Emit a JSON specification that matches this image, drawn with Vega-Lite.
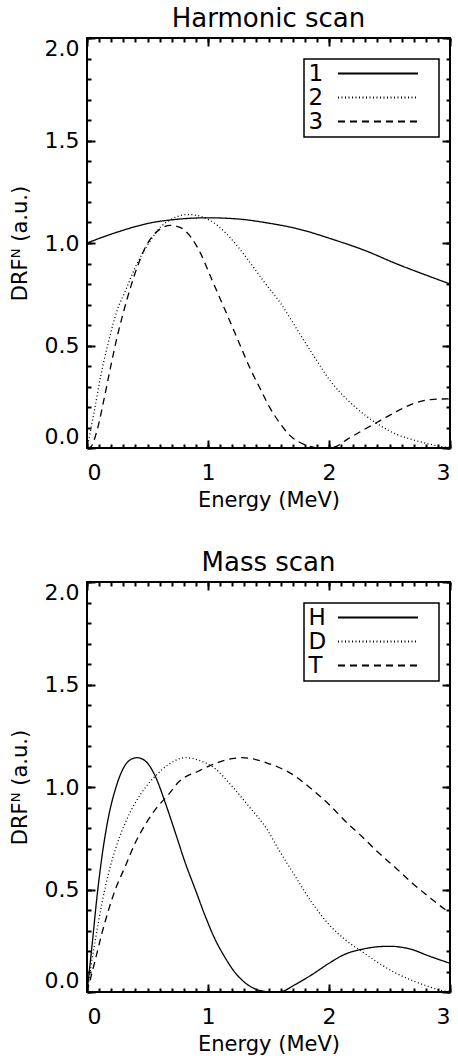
{
  "$schema": "https://vega.github.io/schema/vega-lite/v6.json",
  "padding": {"left": 8, "top": 5, "right": 0, "bottom": 0},
  "spacing": 38,
  "resolve": {"scale": {"strokeDash": "independent"}, "legend": {"strokeDash": "independent"}},
  "config": {
    "font": "DejaVu Sans",
    "view": {"stroke": "black", "strokeWidth": 2},
    "axis": {"grid": false, "domain": false, "labelFont": "DejaVu Sans", "labelFontSize": 22, "labelColor": "black", "titleFont": "DejaVu Sans", "titleFontSize": 21, "titleFontWeight": "normal", "titleColor": "black", "tickColor": "black", "tickWidth": 2},
    "title": {"font": "DejaVu Sans", "fontSize": 26, "fontWeight": "normal", "color": "black", "anchor": "middle", "baseline": "alphabetic", "offset": 5},
    "legend": {"strokeWidth": 1.5}
  },
  "datasets": {
    "harm": [
      {"E": 0, "D": 1.0, "s": "1"}, {"E": 0.25, "D": 1.053, "s": "1"}, {"E": 0.5, "D": 1.095, "s": "1"}, {"E": 0.75, "D": 1.116, "s": "1"}, {"E": 1.0, "D": 1.123, "s": "1"}, {"E": 1.25, "D": 1.117, "s": "1"}, {"E": 1.5, "D": 1.097, "s": "1"}, {"E": 1.75, "D": 1.068, "s": "1"}, {"E": 2.014, "D": 1.021, "s": "1"}, {"E": 2.29, "D": 0.965, "s": "1"}, {"E": 2.564, "D": 0.897, "s": "1"}, {"E": 2.84, "D": 0.835, "s": "1"}, {"E": 3.0, "D": 0.8, "s": "1"},
      {"E": 0, "D": 0, "s": "2"}, {"E": 0.058, "D": 0.172, "s": "2"}, {"E": 0.113, "D": 0.35, "s": "2"}, {"E": 0.182, "D": 0.528, "s": "2"}, {"E": 0.25, "D": 0.673, "s": "2"}, {"E": 0.32, "D": 0.77, "s": "2"}, {"E": 0.388, "D": 0.867, "s": "2"}, {"E": 0.457, "D": 0.948, "s": "2"}, {"E": 0.526, "D": 1.013, "s": "2"}, {"E": 0.609, "D": 1.078, "s": "2"}, {"E": 0.69, "D": 1.113, "s": "2"}, {"E": 0.829, "D": 1.139, "s": "2"}, {"E": 0.94, "D": 1.13, "s": "2"}, {"E": 1.077, "D": 1.086, "s": "2"}, {"E": 1.215, "D": 1.005, "s": "2"}, {"E": 1.353, "D": 0.9, "s": "2"}, {"E": 1.463, "D": 0.811, "s": "2"}, {"E": 1.6, "D": 0.706, "s": "2"}, {"E": 1.738, "D": 0.576, "s": "2"}, {"E": 1.876, "D": 0.447, "s": "2"}, {"E": 2.014, "D": 0.325, "s": "2"}, {"E": 2.15, "D": 0.236, "s": "2"}, {"E": 2.29, "D": 0.164, "s": "2"}, {"E": 2.43, "D": 0.107, "s": "2"}, {"E": 2.56, "D": 0.066, "s": "2"}, {"E": 2.7, "D": 0.039, "s": "2"}, {"E": 2.84, "D": 0.018, "s": "2"}, {"E": 2.95, "D": 0.005, "s": "2"}, {"E": 3.0, "D": 0.003, "s": "2"},
      {"E": 0, "D": 0, "s": "3"}, {"E": 0.03, "D": 0.005, "s": "3"}, {"E": 0.085, "D": 0.09, "s": "3"}, {"E": 0.14, "D": 0.236, "s": "3"}, {"E": 0.196, "D": 0.398, "s": "3"}, {"E": 0.25, "D": 0.544, "s": "3"}, {"E": 0.306, "D": 0.673, "s": "3"}, {"E": 0.361, "D": 0.786, "s": "3"}, {"E": 0.416, "D": 0.884, "s": "3"}, {"E": 0.471, "D": 0.965, "s": "3"}, {"E": 0.526, "D": 1.021, "s": "3"}, {"E": 0.61, "D": 1.07, "s": "3"}, {"E": 0.69, "D": 1.086, "s": "3"}, {"E": 0.774, "D": 1.075, "s": "3"}, {"E": 0.857, "D": 1.03, "s": "3"}, {"E": 0.94, "D": 0.948, "s": "3"}, {"E": 1.022, "D": 0.835, "s": "3"}, {"E": 1.105, "D": 0.722, "s": "3"}, {"E": 1.188, "D": 0.609, "s": "3"}, {"E": 1.27, "D": 0.495, "s": "3"}, {"E": 1.353, "D": 0.382, "s": "3"}, {"E": 1.435, "D": 0.285, "s": "3"}, {"E": 1.504, "D": 0.204, "s": "3"}, {"E": 1.573, "D": 0.139, "s": "3"}, {"E": 1.683, "D": 0.058, "s": "3"}, {"E": 1.793, "D": 0.018, "s": "3"}, {"E": 1.876, "D": 0.003, "s": "3"}, {"E": 1.95, "D": 0.0, "s": "3"}, {"E": 2.04, "D": 0.004, "s": "3"}, {"E": 2.15, "D": 0.042, "s": "3"}, {"E": 2.29, "D": 0.09, "s": "3"}, {"E": 2.43, "D": 0.136, "s": "3"}, {"E": 2.564, "D": 0.18, "s": "3"}, {"E": 2.7, "D": 0.217, "s": "3"}, {"E": 2.84, "D": 0.236, "s": "3"}, {"E": 3.0, "D": 0.24, "s": "3"}
    ],
    "mass": [
      {"E": 0, "D": 0, "s": "H"}, {"E": 0.041, "D": 0.223, "s": "H"}, {"E": 0.083, "D": 0.467, "s": "H"}, {"E": 0.124, "D": 0.662, "s": "H"}, {"E": 0.179, "D": 0.858, "s": "H"}, {"E": 0.234, "D": 0.988, "s": "H"}, {"E": 0.289, "D": 1.078, "s": "H"}, {"E": 0.344, "D": 1.127, "s": "H"}, {"E": 0.413, "D": 1.143, "s": "H"}, {"E": 0.482, "D": 1.127, "s": "H"}, {"E": 0.564, "D": 1.053, "s": "H"}, {"E": 0.647, "D": 0.923, "s": "H"}, {"E": 0.73, "D": 0.777, "s": "H"}, {"E": 0.812, "D": 0.63, "s": "H"}, {"E": 0.895, "D": 0.5, "s": "H"}, {"E": 0.978, "D": 0.369, "s": "H"}, {"E": 1.06, "D": 0.255, "s": "H"}, {"E": 1.143, "D": 0.166, "s": "H"}, {"E": 1.226, "D": 0.093, "s": "H"}, {"E": 1.309, "D": 0.044, "s": "H"}, {"E": 1.39, "D": 0.015, "s": "H"}, {"E": 1.47, "D": 0.003, "s": "H"}, {"E": 1.55, "D": 0.0, "s": "H"}, {"E": 1.61, "D": 0.003, "s": "H"}, {"E": 1.72, "D": 0.036, "s": "H"}, {"E": 1.86, "D": 0.085, "s": "H"}, {"E": 2.0, "D": 0.14, "s": "H"}, {"E": 2.135, "D": 0.185, "s": "H"}, {"E": 2.27, "D": 0.208, "s": "H"}, {"E": 2.41, "D": 0.221, "s": "H"}, {"E": 2.5, "D": 0.223, "s": "H"}, {"E": 2.686, "D": 0.207, "s": "H"}, {"E": 2.82, "D": 0.177, "s": "H"}, {"E": 2.975, "D": 0.145, "s": "H"}, {"E": 3.0, "D": 0.14, "s": "H"},
      {"E": 0, "D": 0, "s": "D"}, {"E": 0.069, "D": 0.255, "s": "D"}, {"E": 0.124, "D": 0.435, "s": "D"}, {"E": 0.179, "D": 0.581, "s": "D"}, {"E": 0.234, "D": 0.695, "s": "D"}, {"E": 0.317, "D": 0.826, "s": "D"}, {"E": 0.399, "D": 0.923, "s": "D"}, {"E": 0.482, "D": 0.997, "s": "D"}, {"E": 0.564, "D": 1.053, "s": "D"}, {"E": 0.675, "D": 1.11, "s": "D"}, {"E": 0.812, "D": 1.143, "s": "D"}, {"E": 0.923, "D": 1.131, "s": "D"}, {"E": 1.06, "D": 1.089, "s": "D"}, {"E": 1.198, "D": 1.004, "s": "D"}, {"E": 1.336, "D": 0.907, "s": "D"}, {"E": 1.488, "D": 0.793, "s": "D"}, {"E": 1.584, "D": 0.695, "s": "D"}, {"E": 1.72, "D": 0.565, "s": "D"}, {"E": 1.86, "D": 0.435, "s": "D"}, {"E": 2.0, "D": 0.329, "s": "D"}, {"E": 2.135, "D": 0.255, "s": "D"}, {"E": 2.27, "D": 0.198, "s": "D"}, {"E": 2.41, "D": 0.142, "s": "D"}, {"E": 2.55, "D": 0.093, "s": "D"}, {"E": 2.686, "D": 0.057, "s": "D"}, {"E": 2.82, "D": 0.027, "s": "D"}, {"E": 2.96, "D": 0.004, "s": "D"}, {"E": 3.0, "D": 0.002, "s": "D"},
      {"E": 0, "D": 0, "s": "T"}, {"E": 0.069, "D": 0.158, "s": "T"}, {"E": 0.124, "D": 0.288, "s": "T"}, {"E": 0.179, "D": 0.402, "s": "T"}, {"E": 0.234, "D": 0.5, "s": "T"}, {"E": 0.317, "D": 0.614, "s": "T"}, {"E": 0.399, "D": 0.728, "s": "T"}, {"E": 0.482, "D": 0.817, "s": "T"}, {"E": 0.564, "D": 0.89, "s": "T"}, {"E": 0.675, "D": 0.964, "s": "T"}, {"E": 0.757, "D": 1.024, "s": "T"}, {"E": 0.923, "D": 1.078, "s": "T"}, {"E": 1.06, "D": 1.115, "s": "T"}, {"E": 1.198, "D": 1.138, "s": "T"}, {"E": 1.28, "D": 1.143, "s": "T"}, {"E": 1.488, "D": 1.117, "s": "T"}, {"E": 1.72, "D": 1.053, "s": "T"}, {"E": 1.86, "D": 0.988, "s": "T"}, {"E": 2.0, "D": 0.915, "s": "T"}, {"E": 2.135, "D": 0.833, "s": "T"}, {"E": 2.27, "D": 0.76, "s": "T"}, {"E": 2.41, "D": 0.679, "s": "T"}, {"E": 2.55, "D": 0.606, "s": "T"}, {"E": 2.686, "D": 0.532, "s": "T"}, {"E": 2.82, "D": 0.467, "s": "T"}, {"E": 2.96, "D": 0.402, "s": "T"}, {"E": 3.0, "D": 0.385, "s": "T"}
    ]
  },
  "vconcat": [
    {
      "title": "Harmonic scan",
      "width": 363,
      "height": 410,
      "data": {"name": "harm"},
      "layer": [
        {
          "mark": {"type": "line", "color": "black", "strokeWidth": 1.3, "interpolate": "monotone", "clip": true},
          "encoding": {
            "x": {"field": "E", "type": "quantitative", "scale": {"domain": [0, 3], "nice": false, "zero": false}, "axis": {"orient": "bottom", "values": [0, 1, 2, 3], "format": "d", "ticks": false, "labelPadding": 14, "title": "Energy (MeV)", "titlePadding": 6}},
            "y": {"field": "D", "type": "quantitative", "scale": {"domain": [0, 2], "nice": false}, "axis": {"orient": "left", "values": [0, 0.5, 1, 1.5, 2], "format": ".1f", "ticks": false, "labelPadding": 8, "labelFlush": true, "title": "DRFᴺ (a.u.)", "titlePadding": 14}},
            "strokeDash": {"field": "s", "type": "nominal", "scale": {"domain": ["1", "2", "3"], "range": [[1, 0], [1, 2.5], [7, 5]]}, "legend": {"orient": "none", "legendX": 217, "legendY": 21, "title": null, "symbolType": "M3.9,0H19.9M22.7,0H22.7", "symbolSize": 100, "symbolStrokeWidth": 2, "symbolStrokeColor": "black", "symbolOffset": 0, "labelOffset": -21.5, "labelFontSize": 23, "labelFont": "DejaVu Sans", "labelColor": "black", "rowPadding": 0, "padding": 3, "strokeColor": "black", "fillColor": "white"}}
          }
        },
        {
          "mark": {"type": "point", "opacity": 0},
          "encoding": {
            "x": {"field": "E", "type": "quantitative", "axis": {"orient": "bottom", "values": [0, 1, 2, 3], "tickSize": 8, "offset": -8, "labels": false, "title": null}},
            "y": {"field": "D", "type": "quantitative", "axis": {"orient": "left", "values": [0, 0.5, 1, 1.5, 2], "tickSize": 8, "offset": -8, "labels": false, "title": null}}
          }
        },
        {
          "mark": {"type": "point", "opacity": 0},
          "encoding": {
            "x": {"field": "E", "type": "quantitative", "axis": {"orient": "bottom", "values": [0, 0.1, 0.2, 0.3, 0.4, 0.5, 0.6, 0.7, 0.8, 0.9, 1, 1.1, 1.2, 1.3, 1.4, 1.5, 1.6, 1.7, 1.8, 1.9, 2, 2.1, 2.2, 2.3, 2.4, 2.5, 2.6, 2.7, 2.8, 2.9, 3], "tickSize": 4, "offset": -4, "labels": false, "title": null}},
            "y": {"field": "D", "type": "quantitative", "axis": {"orient": "left", "values": [0, 0.1, 0.2, 0.3, 0.4, 0.5, 0.6, 0.7, 0.8, 0.9, 1, 1.1, 1.2, 1.3, 1.4, 1.5, 1.6, 1.7, 1.8, 1.9, 2], "tickSize": 4, "offset": -4, "labels": false, "title": null}}
          }
        },
        {
          "mark": {"type": "point", "opacity": 0},
          "encoding": {
            "x": {"field": "E", "type": "quantitative", "axis": {"orient": "top", "values": [0, 1, 2, 3], "tickSize": 8, "offset": -8, "labels": false, "title": null}},
            "y": {"field": "D", "type": "quantitative", "axis": {"orient": "right", "values": [0, 0.5, 1, 1.5, 2], "tickSize": 8, "offset": -8, "labels": false, "title": null}}
          }
        },
        {
          "mark": {"type": "point", "opacity": 0},
          "encoding": {
            "x": {"field": "E", "type": "quantitative", "axis": {"orient": "top", "values": [0, 0.1, 0.2, 0.3, 0.4, 0.5, 0.6, 0.7, 0.8, 0.9, 1, 1.1, 1.2, 1.3, 1.4, 1.5, 1.6, 1.7, 1.8, 1.9, 2, 2.1, 2.2, 2.3, 2.4, 2.5, 2.6, 2.7, 2.8, 2.9, 3], "tickSize": 4, "offset": -4, "labels": false, "title": null}},
            "y": {"field": "D", "type": "quantitative", "axis": {"orient": "right", "values": [0, 0.1, 0.2, 0.3, 0.4, 0.5, 0.6, 0.7, 0.8, 0.9, 1, 1.1, 1.2, 1.3, 1.4, 1.5, 1.6, 1.7, 1.8, 1.9, 2], "tickSize": 4, "offset": -4, "labels": false, "title": null}}
          }
        }
      ],
      "resolve": {"axis": {"x": "independent", "y": "independent"}}
    },
    {
      "title": "Mass scan",
      "width": 363,
      "height": 410,
      "data": {"name": "mass"},
      "layer": [
        {
          "mark": {"type": "line", "color": "black", "strokeWidth": 1.3, "interpolate": "monotone", "clip": true},
          "encoding": {
            "x": {"field": "E", "type": "quantitative", "scale": {"domain": [0, 3], "nice": false, "zero": false}, "axis": {"orient": "bottom", "values": [0, 1, 2, 3], "format": "d", "ticks": false, "labelPadding": 14, "title": "Energy (MeV)", "titlePadding": 6}},
            "y": {"field": "D", "type": "quantitative", "scale": {"domain": [0, 2], "nice": false}, "axis": {"orient": "left", "values": [0, 0.5, 1, 1.5, 2], "format": ".1f", "ticks": false, "labelPadding": 8, "labelFlush": true, "title": "DRFᴺ (a.u.)", "titlePadding": 14}},
            "strokeDash": {"field": "s", "type": "nominal", "scale": {"domain": ["H", "D", "T"], "range": [[1, 0], [1, 2.5], [7, 5]]}, "legend": {"orient": "none", "legendX": 217, "legendY": 21, "title": null, "symbolType": "M3.9,0H19.9M22.7,0H22.7", "symbolSize": 100, "symbolStrokeWidth": 2, "symbolStrokeColor": "black", "symbolOffset": 0, "labelOffset": -21.5, "labelFontSize": 23, "labelFont": "DejaVu Sans", "labelColor": "black", "rowPadding": 0, "padding": 3, "strokeColor": "black", "fillColor": "white"}}
          }
        },
        {
          "mark": {"type": "point", "opacity": 0},
          "encoding": {
            "x": {"field": "E", "type": "quantitative", "axis": {"orient": "bottom", "values": [0, 1, 2, 3], "tickSize": 8, "offset": -8, "labels": false, "title": null}},
            "y": {"field": "D", "type": "quantitative", "axis": {"orient": "left", "values": [0, 0.5, 1, 1.5, 2], "tickSize": 8, "offset": -8, "labels": false, "title": null}}
          }
        },
        {
          "mark": {"type": "point", "opacity": 0},
          "encoding": {
            "x": {"field": "E", "type": "quantitative", "axis": {"orient": "bottom", "values": [0, 0.1, 0.2, 0.3, 0.4, 0.5, 0.6, 0.7, 0.8, 0.9, 1, 1.1, 1.2, 1.3, 1.4, 1.5, 1.6, 1.7, 1.8, 1.9, 2, 2.1, 2.2, 2.3, 2.4, 2.5, 2.6, 2.7, 2.8, 2.9, 3], "tickSize": 4, "offset": -4, "labels": false, "title": null}},
            "y": {"field": "D", "type": "quantitative", "axis": {"orient": "left", "values": [0, 0.1, 0.2, 0.3, 0.4, 0.5, 0.6, 0.7, 0.8, 0.9, 1, 1.1, 1.2, 1.3, 1.4, 1.5, 1.6, 1.7, 1.8, 1.9, 2], "tickSize": 4, "offset": -4, "labels": false, "title": null}}
          }
        },
        {
          "mark": {"type": "point", "opacity": 0},
          "encoding": {
            "x": {"field": "E", "type": "quantitative", "axis": {"orient": "top", "values": [0, 1, 2, 3], "tickSize": 8, "offset": -8, "labels": false, "title": null}},
            "y": {"field": "D", "type": "quantitative", "axis": {"orient": "right", "values": [0, 0.5, 1, 1.5, 2], "tickSize": 8, "offset": -8, "labels": false, "title": null}}
          }
        },
        {
          "mark": {"type": "point", "opacity": 0},
          "encoding": {
            "x": {"field": "E", "type": "quantitative", "axis": {"orient": "top", "values": [0, 0.1, 0.2, 0.3, 0.4, 0.5, 0.6, 0.7, 0.8, 0.9, 1, 1.1, 1.2, 1.3, 1.4, 1.5, 1.6, 1.7, 1.8, 1.9, 2, 2.1, 2.2, 2.3, 2.4, 2.5, 2.6, 2.7, 2.8, 2.9, 3], "tickSize": 4, "offset": -4, "labels": false, "title": null}},
            "y": {"field": "D", "type": "quantitative", "axis": {"orient": "right", "values": [0, 0.1, 0.2, 0.3, 0.4, 0.5, 0.6, 0.7, 0.8, 0.9, 1, 1.1, 1.2, 1.3, 1.4, 1.5, 1.6, 1.7, 1.8, 1.9, 2], "tickSize": 4, "offset": -4, "labels": false, "title": null}}
          }
        }
      ],
      "resolve": {"axis": {"x": "independent", "y": "independent"}}
    }
  ]
}
